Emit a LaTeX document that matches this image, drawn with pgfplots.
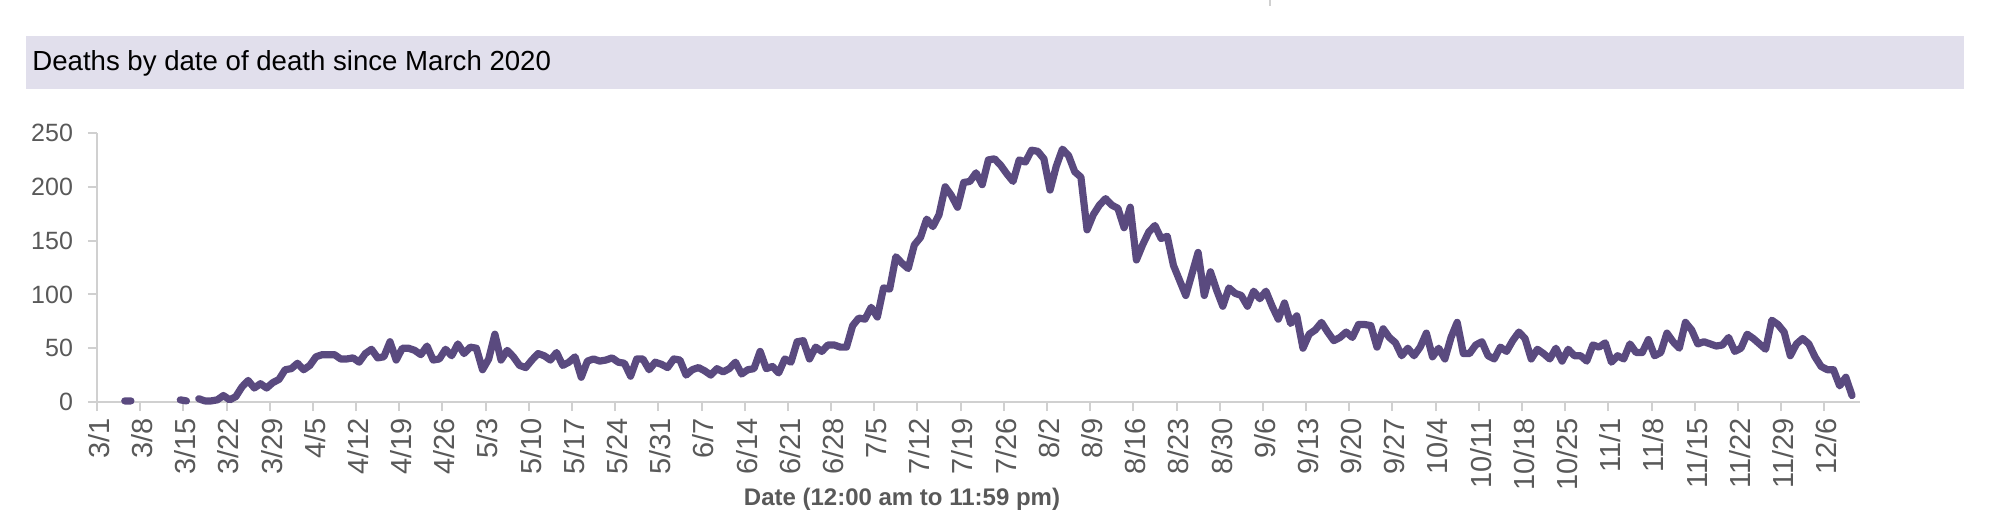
\documentclass[border=0pt]{standalone}
\usepackage{pgfplots}
\usepackage{pgfplotstable}
\pgfplotsset{compat=1.18}
\usepackage{fontspec}
\setmainfont{Liberation Sans}
\definecolor{deathline}{RGB}{90,74,127}
\definecolor{titleband}{RGB}{225,223,236}
\definecolor{axisgray}{RGB}{208,208,208}
\definecolor{labelgray}{RGB}{89,89,89}

% day = days since 3/1 (3/1 = 0), deaths by date of death
\pgfplotstableread{
day deaths
4 1
5 1
6 nan
13 2
14 1
15 nan
16 3
17 1
18 1
19 2
20 6
21 2
22 5
23 14
24 20
25 13
26 17
27 13
28 18
29 21
30 30
31 31
32 36
33 30
34 34
35 42
36 44
37 44
38 44
39 40
40 40
41 41
42 37
43 45
44 49
45 41
46 42
47 56
48 39
49 50
50 50
51 48
52 44
53 52
54 39
55 40
56 49
57 43
58 54
59 45
60 51
61 50
62 30
63 40
64 63
65 39
66 48
67 42
68 34
69 32
70 39
71 45
72 43
73 39
74 46
75 34
76 37
77 42
78 23
79 38
80 40
81 38
82 39
83 41
84 37
85 36
86 24
87 40
88 40
89 30
90 37
91 35
92 32
93 40
94 39
95 25
96 30
97 32
98 29
99 25
100 31
101 28
102 31
103 37
104 26
105 30
106 31
107 47
108 31
109 33
110 27
111 40
112 37
113 56
114 57
115 40
116 51
117 47
118 53
119 53
120 51
121 51
122 71
123 78
124 77
125 88
126 79
127 106
128 105
129 135
130 129
131 124
132 146
133 153
134 170
135 163
136 174
137 200
138 192
139 181
140 204
141 205
142 213
143 202
144 225
145 226
146 220
147 212
148 205
149 225
150 223
151 234
152 233
153 226
154 197
155 219
156 235
157 229
158 214
159 209
160 160
161 174
162 183
163 189
164 183
165 180
166 162
167 181
168 132
169 146
170 158
171 164
172 152
173 154
174 127
175 113
176 99
177 119
178 139
179 99
180 121
181 104
182 89
183 106
184 101
185 99
186 89
187 103
188 96
189 103
190 89
191 77
192 92
193 73
194 80
195 50
196 63
197 67
198 74
199 65
200 57
201 60
202 65
203 60
204 72
205 72
206 71
207 51
208 68
209 60
210 55
211 43
212 50
213 43
214 51
215 64
216 42
217 50
218 40
219 60
220 74
221 45
222 45
223 53
224 56
225 43
226 40
227 51
228 47
229 57
230 65
231 59
232 40
233 49
234 45
235 40
236 50
237 38
238 49
239 43
240 43
241 38
242 53
243 51
244 55
245 37
246 43
247 40
248 54
249 46
250 46
251 58
252 43
253 46
254 64
255 56
256 50
257 74
258 67
259 54
260 56
261 54
262 52
263 53
264 60
265 47
266 50
267 63
268 59
269 54
270 49
271 76
272 72
273 65
274 43
275 54
276 59
277 54
278 42
279 33
280 30
281 30
282 15
283 23
284 6
}\deaths

\begin{document}
\begin{tikzpicture}
% page frame: 2000x527 px at 0.5bp per px
\path[use as bounding box] (0,0) rectangle (1000bp,263.5bp);

% title band
\fill[titleband] (13bp,219bp) rectangle (982bp,245.5bp);
\node[anchor=base west, inner sep=0pt, font=\fontsize{13.8bp}{16bp}\selectfont]
  at (16bp,228bp) {Deaths by date of death since March 2020};
\draw[axisgray, line width=0.8bp] (635bp,263.5bp) -- (635bp,260.5bp);

\begin{axis}[
    at={(48.5bp,62.5bp)},
    anchor=south west,
    scale only axis,
    width=881.5bp,
    height=134.5bp,
    xmin=0, xmax=285.8,
    ymin=0, ymax=250,
    axis x line*=bottom,
    axis y line*=left,
    axis line style={draw=axisgray, line width=1.3bp},
    tick align=outside,
    major tick length=4.5bp,
    tick style={draw=axisgray, line width=1bp},
    xtick={0,7,...,280},
    xticklabels={3/1,3/8,3/15,3/22,3/29,4/5,4/12,4/19,4/26,5/3,5/10,5/17,5/24,5/31,
      6/7,6/14,6/21,6/28,7/5,7/12,7/19,7/26,8/2,8/9,8/16,8/23,8/30,9/6,9/13,9/20,
      9/27,10/4,10/11,10/18,10/25,11/1,11/8,11/15,11/22,11/29,12/6},
    ytick={0,50,...,250},
    ticklabel style={text=labelgray},
    yticklabel style={font=\fontsize{12.5bp}{15bp}\selectfont, xshift=-4bp},
    xticklabel style={font=\fontsize{14.5bp}{17bp}\selectfont, rotate=90, anchor=east, yshift=-1bp},
    /pgf/number format/assume math mode=true,
    unbounded coords=jump,
    clip=false,
]
\addplot[deathline, line width=3.6bp, line join=round, line cap=round]
  table[x expr=\thisrow{day}+0.5, y=deaths] {\deaths};
\end{axis}

\node[font=\bfseries\fontsize{12bp}{14bp}\selectfont, text=labelgray]
  at (451bp,14bp) {Date (12:00 am to 11:59 pm)};
\end{tikzpicture}
\end{document}
